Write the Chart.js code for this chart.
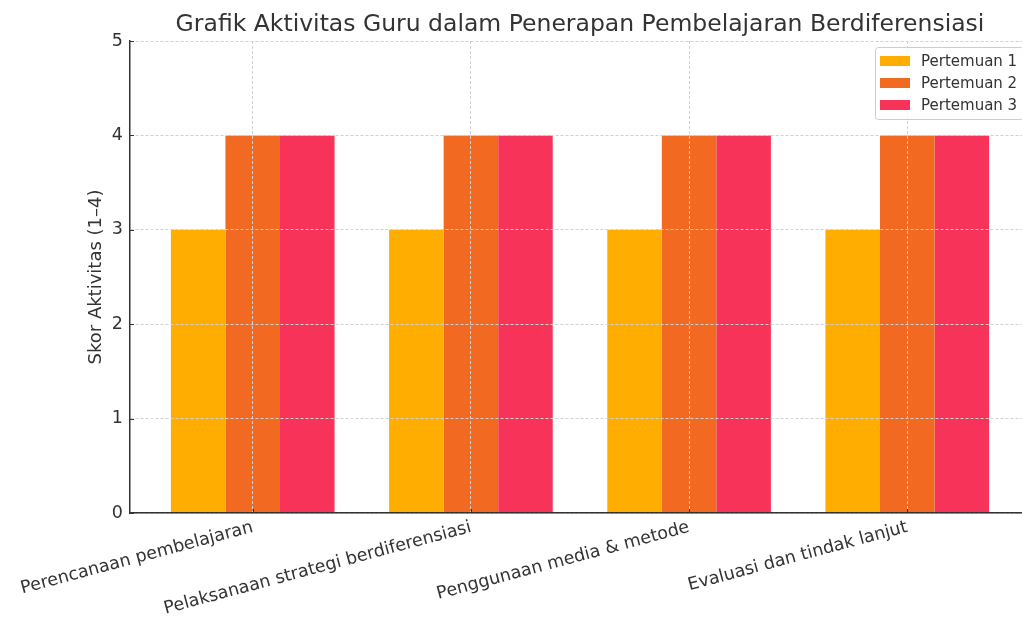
<!DOCTYPE html>
<html>
<head>
<meta charset="utf-8">
<title>Grafik Aktivitas Guru</title>
<script src="https://cdn.jsdelivr.net/npm/chart.js@4"></script>
<style>
  html, body { margin: 0; padding: 0; background: #fff; overflow: hidden; }
  #wrap { width: 1032px; height: 618px; }
</style>
</head>
<body>
<div id="wrap"><canvas id="myChart" width="1032" height="618"></canvas></div>
<script>
// data
const categories = ['Perencanaan pembelajaran', 'Pelaksanaan strategi berdiferensiasi', 'Penggunaan media & metode', 'Evaluasi dan tindak lanjut'];
const seriesNames = ['Pertemuan 1', 'Pertemuan 2', 'Pertemuan 3'];
const pertemuan1 = [3, 3, 3, 3];
const pertemuan2 = [4, 4, 4, 4];
const pertemuan3 = [4, 4, 4, 4];
const yTicks = [0, 1, 2, 3, 4, 5];
const chartTitle = 'Grafik Aktivitas Guru dalam Penerapan Pembelajaran Berdiferensiasi';

const colors = ['#FFAD00', '#F26A21', '#F7335A'];
const font = "'DejaVu Sans', sans-serif";

function toPoints(arr) {
    return arr.map((v, i) => ({ x: i, y: v }));
}

// title centred over the plot, inward tick marks, legend inside the plot (top right)
const extras = {
    id: 'extras',
    afterDraw(chart) {
        const ctx = chart.ctx;
        const a = chart.chartArea;
        ctx.save();
        ctx.fillStyle = '#333';
        ctx.font = '23.5px ' + font;
        ctx.textAlign = 'center';
        ctx.textBaseline = 'alphabetic';
        ctx.fillText(chartTitle, (a.left + a.right) / 2, 31);

        // small ticks pointing into the plot
        ctx.strokeStyle = '#333';
        ctx.lineWidth = 1;
        ctx.beginPath();
        chart.scales.x.ticks.forEach(t => {
            const px = Math.round(chart.scales.x.getPixelForValue(t.value)) + 0.5;
            ctx.moveTo(px, a.bottom);
            ctx.lineTo(px, a.bottom - 4);
        });
        chart.scales.y.ticks.forEach(t => {
            const py = Math.round(chart.scales.y.getPixelForValue(t.value)) + 0.5;
            ctx.moveTo(a.left, py);
            ctx.lineTo(a.left + 4, py);
        });
        ctx.stroke();

        const x0 = a.right - 155, y0 = a.top + 6, w = 148, h = 72;
        ctx.fillStyle = 'rgba(255,255,255,0.8)';
        ctx.strokeStyle = '#cccccc';
        ctx.beginPath();
        ctx.roundRect(x0 + 0.5, y0 + 0.5, w, h, 3);
        ctx.fill();
        ctx.stroke();
        ctx.font = '15px ' + font;
        ctx.textAlign = 'left';
        ctx.textBaseline = 'middle';
        chart.data.datasets.forEach((ds, i) => {
            const cy = y0 + 14 + i * 22;
            ctx.fillStyle = ds.backgroundColor;
            ctx.fillRect(x0 + 5, cy - 5, 30, 10);
            ctx.fillStyle = '#333';
            ctx.fillText(ds.label, x0 + 46, cy + 1);
        });
        ctx.restore();
    }
};

const gridOpts = {
    color: '#d0d0d0',
    drawTicks: false,
    offset: false,
    z: 1
};
const borderOpts = { display: true, color: '#333', width: 1.5, dash: [3, 2], z: 2 };

const ctx = document.getElementById('myChart').getContext('2d');
const chart = new Chart(ctx, {
    type: 'bar',
    data: {
        datasets: [
            { label: seriesNames[0], data: toPoints(pertemuan1), backgroundColor: colors[0] },
            { label: seriesNames[1], data: toPoints(pertemuan2), backgroundColor: colors[1] },
            { label: seriesNames[2], data: toPoints(pertemuan3), backgroundColor: colors[2] }
        ]
    },
    options: {
        responsive: false,
        animation: false,
        datasets: { bar: { categoryPercentage: 0.75, barPercentage: 1.0 } },
        layout: { padding: { left: 0, right: 2, top: 41, bottom: 0 } },
        plugins: {
            legend: { display: false },
            tooltip: { enabled: false },
            title: { display: false }
        },
        scales: {
            x: {
                type: 'linear',
                offset: false,
                min: -0.5625,
                max: 3.5625,
                afterBuildTicks: (s) => { s.ticks = categories.map((c, i) => ({ value: i })); },
                afterFit: (s) => {
                    s.height = 105;
                    s.paddingLeft = 0;
                    s.paddingRight = 0;
                },
                ticks: {
                    callback: (v) => categories[v],
                    minRotation: 15,
                    maxRotation: 15,
                    autoSkip: false,
                    padding: 4,
                    color: '#333',
                    font: { family: font, size: 17.5 }
                },
                grid: gridOpts,
                border: borderOpts
            },
            y: {
                min: 0,
                max: 5,
                afterBuildTicks: (s) => { s.ticks = yTicks.map(v => ({ value: v })); },
                afterFit: (s) => {
                    s.width = 130;
                    s.paddingTop = 0;
                    s.paddingBottom = 0;
                },
                ticks: {
                    padding: 7,
                    color: '#333',
                    font: { family: font, size: 17.5 }
                },
                grid: gridOpts,
                border: borderOpts,
                title: {
                    display: true,
                    text: 'Skor Aktivitas (1\u20134)',
                    color: '#333',
                    font: { family: font, size: 18 },
                    padding: { top: 86, bottom: 0 }
                }
            }
        }
    },
    plugins: [extras]
});
</script>
</body>
</html>
